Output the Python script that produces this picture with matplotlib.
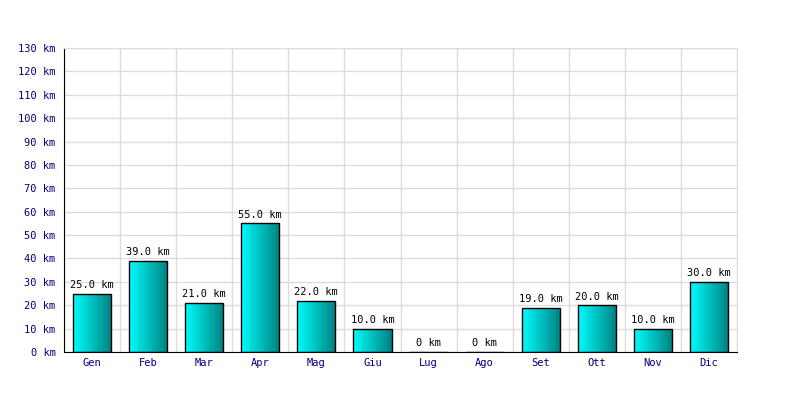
import matplotlib.pyplot as plt
import numpy as np

months = ['Gen', 'Feb', 'Mar', 'Apr', 'Mag', 'Giu', 'Lug', 'Ago', 'Set', 'Ott', 'Nov', 'Dic']
km = [25.0, 39.0, 21.0, 55.0, 22.0, 10.0, 0.0, 0.0, 19.0, 20.0, 10.0, 30.0]
y_ticks = list(range(0, 131, 10))

plt.rcParams['font.family'] = 'DejaVu Sans Mono'

fig = plt.figure(figsize=(8, 4), dpi=100)
ax = fig.add_axes([0.08, 0.12, 0.84125, 0.76])

x = np.arange(len(months))
bar_w = 0.68
bars = ax.bar(x, km, width=bar_w, color='none', edgecolor='black', linewidth=1.0, zorder=3)

# horizontal gradient cyan -> teal inside each bar
grad = np.linspace(0, 1, 256).reshape(1, -1)
cmap = plt.matplotlib.colors.LinearSegmentedColormap.from_list('cy', ['#00ffff', '#008080'])
for b in bars:
    h = b.get_height()
    if h <= 0:
        continue
    x0 = b.get_x()
    im = ax.imshow(grad, cmap=cmap, aspect='auto', extent=(x0, x0 + bar_w, 0, h),
                   zorder=2, interpolation='bilinear')
    im.set_clip_path(b)

for xi, v in zip(x, km):
    ax.text(xi, v + 1.5, f'{v:.1f} km' if v > 0 else '0 km', ha='center', va='bottom',
            fontsize=7.5, color='black', zorder=4)

ax.set_xlim(-0.5, len(months) - 0.5)
ax.set_ylim(0, 130)
ax.set_yticks(y_ticks)
ax.set_yticklabels([f'{t} km' for t in y_ticks])
ax.set_xticks(x)
ax.set_xticklabels(months)
ax.set_xticks(np.arange(len(months) + 1) - 0.5, minor=True)
ax.tick_params(axis='both', which='both', length=0, labelsize=7.5, labelcolor='#000080')
ax.tick_params(axis='y', pad=6)
ax.tick_params(axis='x', pad=4)

ax.grid(True, axis='y', color='#dcdcdc', linewidth=1, zorder=0)
ax.grid(True, axis='x', which='minor', color='#dcdcdc', linewidth=1, zorder=0)
ax.set_axisbelow(True)
for s in ['top', 'right']:
    ax.spines[s].set_color('#dcdcdc')
ax.spines['left'].set_color('black')
ax.spines['bottom'].set_color('black')

fig.savefig('out.png', dpi=100)
